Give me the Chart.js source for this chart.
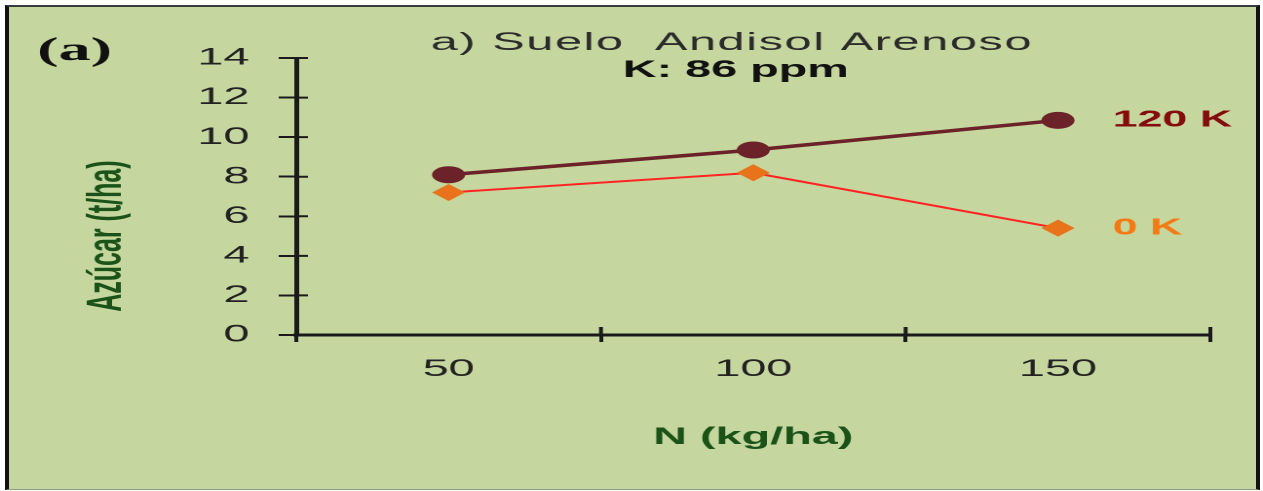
<!DOCTYPE html>
<html>
<head>
<meta charset="utf-8">
<script src="https://cdn.jsdelivr.net/npm/chart.js@4"></script>
<style>
  html, body { margin: 0; padding: 0; background: #fff; }
  body { width: 1263px; height: 491px; position: relative; overflow: hidden; }
  #frame {
    position: absolute; left: 5px; top: 5px; width: 1247px; height: 482px;
    background: #c5d79e;
    border-top: 2px solid #3a3a3a; border-left: 4px solid #111;
    border-right: 4px solid #111; border-bottom: 1px solid #8a9a7a;
  }
  /* the original picture is stretched sideways, so the chart is drawn narrow and widened */
  #wrap { position: absolute; left: 0; top: 0; width: 648px; height: 491px; transform: scaleX(1.949); transform-origin: 0 0; }
  canvas { display: block; }
</style>
</head>
<body>
<div id="frame"></div>
<div id="wrap"><canvas id="chart" width="648" height="491"></canvas></div>
<script>
// N rates (kg/ha) on the x axis
const nLevels = ['50', '100', '150'];
// y axis ticks (t/ha)
const yTicks = [0, 2, 4, 6, 8, 10, 12, 14];
// sugar yield, t/ha
const sugar120K = [8.1, 9.35, 10.85];
const sugar0K = [7.2, 8.2, 5.4];
const seriesNames = ['120 K', '0 K'];

const titleText = 'a) Suelo  Andisol Arenoso';
const subtitleText = 'K: 86 ppm';
const panelText = '(a)';
const yTitleText = 'Azúcar (t/ha)';

// Draws the titles, the panel letter, the end-of-line labels and the inner half of the tick marks
const annotations = {
    id: 'annotations',
    afterDraw(chart) {
        const { ctx, chartArea, scales } = chart;
        const xs = scales.x, ys = scales.y;
        ctx.save();

        // tick marks crossing the axes
        ctx.strokeStyle = '#1a1a1a';
        ctx.lineWidth = 2;
        ctx.beginPath();
        yTicks.forEach(v => {
            const py = ys.getPixelForValue(v);
            ctx.moveTo(chartArea.left, py);
            ctx.lineTo(chartArea.left + 6, py);
        });
        for (let i = 1; i <= nLevels.length; i++) {
            const px = xs.getPixelForValue(i - 0.5);
            ctx.moveTo(px, chartArea.bottom);
            ctx.lineTo(px, chartArea.bottom - 8);
        }
        ctx.stroke();

        const mid = (chartArea.left + chartArea.right) / 2;
        ctx.textAlign = 'center';
        ctx.textBaseline = 'alphabetic';
        ctx.fillStyle = '#2b2b2b';
        ctx.font = '25px "Liberation Sans", Arial, sans-serif';
        ctx.letterSpacing = '0.8px';
        ctx.fillText(titleText, mid - 11, 50);
        ctx.letterSpacing = '0px';
        ctx.fillStyle = '#111';
        ctx.font = 'bold 24px "Liberation Sans", Arial, sans-serif';
        ctx.fillText(subtitleText, mid - 9, 77);

        ctx.textAlign = 'left';
        ctx.font = 'bold 33px "Liberation Serif", "Times New Roman", serif';
        ctx.fillStyle = '#111';
        ctx.fillText(panelText, 19, 60);

        // y axis title, set lower than the axis middle as in the original
        ctx.save();
        ctx.translate(55, ys.getPixelForValue(5));
        ctx.rotate(-Math.PI / 2);
        ctx.textAlign = 'center';
        ctx.textBaseline = 'middle';
        ctx.fillStyle = '#1a5218';
        ctx.font = 'bold 25px "Liberation Sans", Arial, sans-serif';
        ctx.fillText(yTitleText, 0, 0);
        ctx.restore();

        // series names next to the last point
        ctx.textAlign = 'left';
        ctx.textBaseline = 'middle';
        ctx.font = 'bold 23px "Liberation Sans", Arial, sans-serif';
        chart.data.datasets.forEach((ds, i) => {
            const meta = chart.getDatasetMeta(i);
            const last = meta.data[meta.data.length - 1];
            ctx.fillStyle = ds.labelColor;
            ctx.fillText(ds.label, last.x + 28, last.y);
        });
        ctx.restore();
    }
};

const ctx = document.getElementById('chart').getContext('2d');
const chart = new Chart(ctx, {
    type: 'line',
    data: {
        labels: nLevels,
        datasets: [
            {
                label: seriesNames[0],
                data: sugar120K,
                borderColor: '#6b2228',
                backgroundColor: '#6b2228',
                borderWidth: 3.5,
                pointStyle: 'circle',
                pointRadius: 8.5,
                pointBorderWidth: 0,
                labelColor: '#850c0c'
            },
            {
                label: seriesNames[1],
                data: sugar0K,
                borderColor: '#ff2424',
                backgroundColor: '#e8731a',
                borderWidth: 2,
                pointStyle: 'rectRot',
                pointRadius: 8.5,
                pointBorderWidth: 0,
                labelColor: '#f47a14'
            }
        ]
    },
    options: {
        responsive: false,
        animation: false,
        devicePixelRatio: 2,
        layout: { padding: { left: 40, right: 27, top: 58, bottom: 20 } },
        plugins: {
            legend: { display: false },
            tooltip: { enabled: false }
        },
        scales: {
            x: {
                type: 'category',
                offset: true,
                grid: { display: true, drawOnChartArea: false, offset: true, tickLength: 7, color: '#1a1a1a', lineWidth: 2 },
                border: { display: true, color: '#1a1a1a', width: 3 },
                ticks: { color: '#222', padding: 13, font: { family: '"Liberation Sans", Arial, sans-serif', size: 24 } },
                title: {
                    display: true,
                    text: 'N (kg/ha)',
                    color: '#1a5218',
                    padding: { top: 0, bottom: 19 },
                    font: { family: '"Liberation Sans", Arial, sans-serif', size: 24, weight: 'bold' }
                },
                afterFit: scale => { scale.height = 136; }
            },
            y: {
                min: yTicks[0],
                max: yTicks[yTicks.length - 1],
                grid: { display: true, drawOnChartArea: false, tickLength: 9, color: '#1a1a1a', lineWidth: 2 },
                border: { display: true, color: '#1a1a1a', width: 2.5 },
                ticks: { stepSize: 2, color: '#222', padding: 15, font: { family: '"Liberation Sans", Arial, sans-serif', size: 24 } },
                afterFit: scale => { scale.width = 112; }
            }
        }
    },
    plugins: [annotations]
});
</script>
</body>
</html>
